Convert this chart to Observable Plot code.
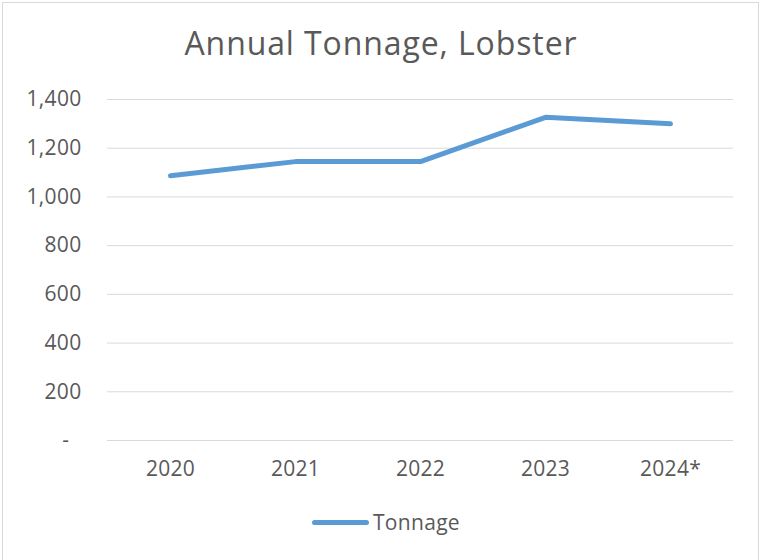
<!DOCTYPE html>
<html>
<head>
<meta charset="utf-8">
<script src="https://cdn.jsdelivr.net/npm/d3@7"></script>
<script src="https://cdn.jsdelivr.net/npm/@observablehq/plot@0.6"></script>
<style>
  html, body { margin: 0; padding: 0; background: #fff; }
  #wrap { position: relative; width: 762px; height: 560px; overflow: hidden; font-family: "Open Sans", "Liberation Sans", sans-serif; }
  #frame { position: absolute; left: 2px; top: 2px; width: 757px; height: 560px; border: 1px solid #d9d9d9; box-sizing: border-box; }
  #title { position: absolute; left: 0; width: 762px; top: 23px; text-align: center; font-size: 32px; letter-spacing: 0.9px; color: #595959; line-height: 40px; }
  #chart { position: absolute; left: 0; top: 0; }
  #legend { position: absolute; left: 312px; top: 510px; display: flex; align-items: center; font-size: 21px; line-height: 24px; letter-spacing: 0.3px; color: #595959; }
  #legend .sw { width: 57px; height: 5px; background: #5b9bd5; border-radius: 2.5px; margin-right: 4px; }
</style>
</head>
<body>
<div id="wrap">
  <div id="frame"></div>
  <div id="chart"></div>
  <div id="title">Annual Tonnage, Lobster</div>
  <div id="legend"><div class="sw"></div><span>Tonnage</span></div>
</div>
<script>
const years = ["2020", "2021", "2022", "2023", "2024*"];
const tonnage = [1087, 1145, 1145, 1327, 1300];
const yTicks = [0, 200, 400, 600, 800, 1000, 1200, 1400];

const data = years.map((y, i) => ({year: y, value: tonnage[i]}));
const fmt = d3.format(",");

const chart = Plot.plot({
  width: 762,
  height: 560,
  marginTop: 99,
  marginBottom: 120,
  marginLeft: 107,
  marginRight: 29,
  style: {fontFamily: "'Open Sans', 'Liberation Sans', sans-serif", fontSize: "21px", letterSpacing: "0.3px", color: "#595959", background: "transparent"},
  x: {type: "point", domain: years, padding: 0.5, label: null},
  y: {domain: [0, 1400], label: null},
  marks: [
    Plot.gridY(yTicks, {stroke: "#d9d9d9", strokeOpacity: 1, strokeWidth: 1}),
    Plot.axisY({ticks: yTicks, tickSize: 0, tickPadding: 26, tickFormat: d => d === 0 ? "-\u2007" : fmt(d), fill: "#595959", label: null}),
    Plot.axisX({tickSize: 0, tickPadding: 21, fill: "#595959", label: null}),
    Plot.line(data, {x: "year", y: "value", stroke: "#5b9bd5", strokeWidth: 5, strokeLinecap: "round", strokeLinejoin: "round"})
  ]
});
document.getElementById("chart").appendChild(chart);
</script>
</body>
</html>
